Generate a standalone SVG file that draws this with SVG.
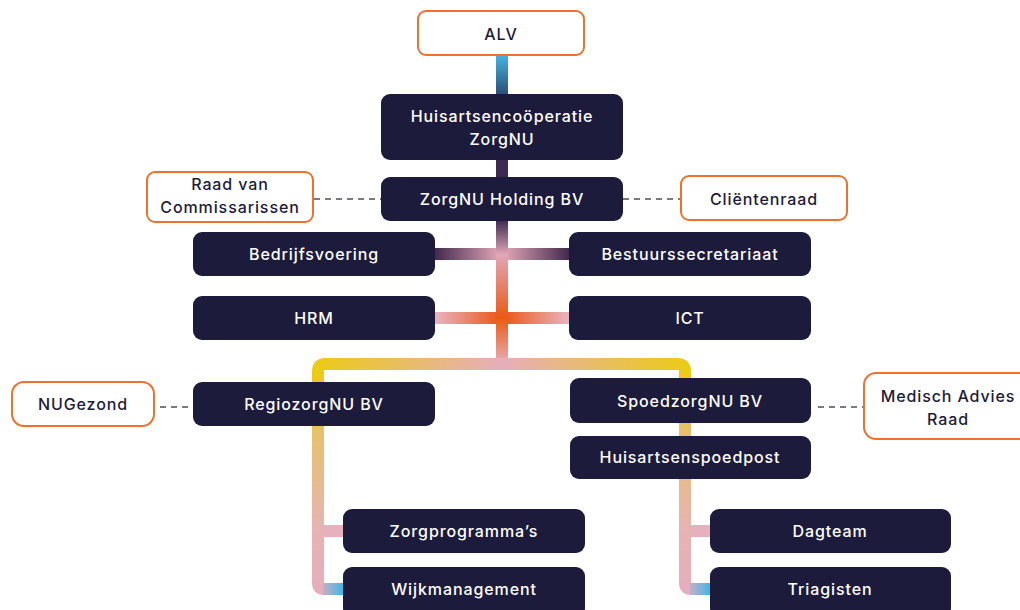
<svg xmlns="http://www.w3.org/2000/svg" width="1020" height="610" viewBox="0 0 1020 610">
<defs>
<style>
.n{fill:#1d1b3b;}
.o{fill:#ffffff;stroke:#f0702e;stroke-width:2;}
.t{font-family:Inter,"Noto Sans",sans-serif;font-size:16px;font-weight:500;text-anchor:middle;letter-spacing:0.9px;}
.w{fill:#ffffff;}
.d{fill:#1d1b3b;}
.dash{stroke:#4e4e5c;stroke-width:1.6;stroke-dasharray:6 5;fill:none;}
</style>
<linearGradient id="gAlv" gradientUnits="userSpaceOnUse" x1="0" y1="55" x2="0" y2="94">
<stop offset="0" stop-color="#45b4e2"/><stop offset="1" stop-color="#2c4f78"/>
</linearGradient>
<linearGradient id="gTrunk" gradientUnits="userSpaceOnUse" x1="0" y1="220" x2="0" y2="364">
<stop offset="0" stop-color="#3e2a50"/><stop offset="0.24" stop-color="#e2a6b8"/><stop offset="0.68" stop-color="#ea5a14"/><stop offset="1" stop-color="#e6aeba"/>
</linearGradient>
<linearGradient id="gH1" gradientUnits="userSpaceOnUse" x1="435" y1="0" x2="569" y2="0">
<stop offset="0" stop-color="#44284f"/><stop offset="0.5" stop-color="#e8abb9"/><stop offset="1" stop-color="#44284f"/>
</linearGradient>
<linearGradient id="gH2" gradientUnits="userSpaceOnUse" x1="435" y1="0" x2="569" y2="0">
<stop offset="0" stop-color="#e8b4c0"/><stop offset="0.5" stop-color="#ea5510"/><stop offset="1" stop-color="#e8b4c0"/>
</linearGradient>
<linearGradient id="gTop" gradientUnits="userSpaceOnUse" x1="318" y1="0" x2="685" y2="0">
<stop offset="0" stop-color="#ebcb17"/><stop offset="0.5" stop-color="#e6aebb"/><stop offset="1" stop-color="#ebcb17"/>
</linearGradient>
<linearGradient id="gLeg" gradientUnits="userSpaceOnUse" x1="0" y1="364" x2="0" y2="595">
<stop offset="0" stop-color="#ebcb17"/><stop offset="0.3" stop-color="#e8c06c"/><stop offset="0.7" stop-color="#e6b4b0"/><stop offset="1" stop-color="#e6adbd"/>
</linearGradient>
<linearGradient id="gBL" gradientUnits="userSpaceOnUse" x1="318" y1="0" x2="343" y2="0">
<stop offset="0" stop-color="#e6adbd"/><stop offset="1" stop-color="#42b6ea"/>
</linearGradient>
<linearGradient id="gBR" gradientUnits="userSpaceOnUse" x1="685" y1="0" x2="710" y2="0">
<stop offset="0" stop-color="#e6adbd"/><stop offset="1" stop-color="#42b6ea"/>
</linearGradient>
</defs>
<rect width="1020" height="610" fill="#ffffff"/>
<g id="connectors">
<rect x="496" y="55" width="12" height="40" fill="url(#gAlv)"/>
<rect x="496" y="159" width="12" height="20" fill="#3e2a50"/>
<rect x="435" y="248" width="134" height="12" fill="url(#gH1)"/>
<rect x="435" y="312" width="134" height="12" fill="url(#gH2)"/>
<rect x="496" y="219" width="12" height="145" fill="url(#gTrunk)"/>
<path d="M318,382 V371 Q318,364 325,364 H678 Q685,364 685,371 V382" fill="none" stroke="url(#gTop)" stroke-width="12"/>
<path d="M318,380 V583 Q318,589 324,589" fill="none" stroke="url(#gLeg)" stroke-width="12"/>
<path d="M685,380 V583 Q685,589 691,589" fill="none" stroke="url(#gLeg)" stroke-width="12"/>
<rect x="323" y="583" width="21" height="12" fill="url(#gBL)"/>
<rect x="690" y="583" width="21" height="12" fill="url(#gBR)"/>
<rect x="323" y="525" width="21" height="12" fill="#e6b1bd"/>
<rect x="690" y="525" width="21" height="12" fill="#e6b1bd"/>
<line class="dash" x1="314" y1="199" x2="381" y2="199"/>
<line class="dash" x1="623" y1="199" x2="681" y2="199"/>
<line class="dash" x1="160" y1="407" x2="193" y2="407"/>
<line class="dash" x1="818" y1="407" x2="864" y2="407"/>
</g>
<g id="alv"><rect class="o" x="418" y="11" width="166" height="44" rx="8"/><text class="t d" x="501" y="40">ALV</text></g>
<g id="huisartsencooperatie"><rect class="n" x="381" y="94" width="242" height="66" rx="9"/><text class="t w" x="502" y="122">Huisartsencoöperatie</text><text class="t w" x="502" y="145">ZorgNU</text></g>
<g id="holding"><rect class="n" x="381" y="177" width="242" height="44" rx="9"/><text class="t w" x="502" y="205">ZorgNU Holding BV</text></g>
<g id="rvc"><rect class="o" x="147" y="172" width="166" height="50" rx="8"/><text class="t d" x="230" y="190">Raad van</text><text class="t d" x="230" y="213">Commissarissen</text></g>
<g id="clientenraad"><rect class="o" x="681" y="176" width="166" height="44" rx="8"/><text class="t d" x="764" y="205">Cliëntenraad</text></g>
<g id="bedrijfsvoering"><rect class="n" x="193" y="232" width="242" height="44" rx="9"/><text class="t w" x="314" y="260">Bedrijfsvoering</text></g>
<g id="bestuurssecretariaat"><rect class="n" x="569" y="232" width="242" height="44" rx="9"/><text class="t w" x="690" y="260">Bestuurssecretariaat</text></g>
<g id="hrm"><rect class="n" x="193" y="296" width="242" height="44" rx="9"/><text class="t w" x="314" y="324">HRM</text></g>
<g id="ict"><rect class="n" x="569" y="296" width="242" height="44" rx="9"/><text class="t w" x="690" y="324">ICT</text></g>
<g id="nugezond"><rect class="o" x="12" y="382" width="142" height="44" rx="12"/><text class="t d" x="83" y="410">NUGezond</text></g>
<g id="regiozorg"><rect class="n" x="193" y="382" width="242" height="44" rx="9"/><text class="t w" x="314" y="410">RegiozorgNU BV</text></g>
<g id="spoedzorg"><rect class="n" x="570" y="378" width="241" height="45" rx="9"/><text class="t w" x="690" y="407">SpoedzorgNU BV</text></g>
<g id="mar"><rect class="o" x="864" y="373" width="170" height="66" rx="12"/><text class="t d" x="948" y="402">Medisch Advies</text><text class="t d" x="948" y="425">Raad</text></g>
<g id="huisartsenspoedpost"><rect class="n" x="570" y="436" width="241" height="43" rx="9"/><text class="t w" x="690" y="463">Huisartsenspoedpost</text></g>
<g id="zorgprogrammas"><rect class="n" x="343" y="509" width="242" height="44" rx="9"/><text class="t w" x="464" y="537">Zorgprogramma’s</text></g>
<g id="wijkmanagement"><rect class="n" x="343" y="567" width="242" height="50" rx="9"/><text class="t w" x="464" y="595">Wijkmanagement</text></g>
<g id="dagteam"><rect class="n" x="710" y="509" width="241" height="44" rx="9"/><text class="t w" x="830" y="537">Dagteam</text></g>
<g id="triagisten"><rect class="n" x="710" y="567" width="241" height="50" rx="9"/><text class="t w" x="830" y="595">Triagisten</text></g>
</svg>
